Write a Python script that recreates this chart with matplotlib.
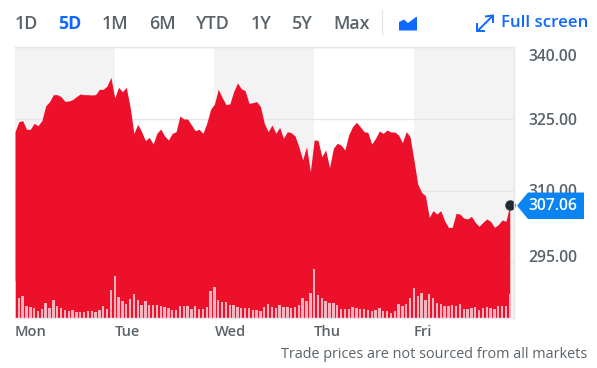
import matplotlib
matplotlib.use("Agg")
import matplotlib.pyplot as plt
from matplotlib.patches import Polygon
from matplotlib.lines import Line2D
from matplotlib.transforms import ScaledTranslation
import numpy as np

plt.rcParams['font.family'] = ['Open Sans', 'DejaVu Sans']

prices = [322.36,324.44,324.65,322.85,322.85,324.10,323.61,324.65,327.71,328.61,
330.07,330.07,329.65,328.68,328.75,329.03,329.65,330.21,330.07,330.07,330.0,330.07,331.18,331.18,331.88,333.68,
329.38,331.6,330.69,331.6,327.57,322.01,323.89,322.36,320.49,321.18,319.79,322.01,322.92,321.46,320.63,322.01,322.36,325.63,325.0,325.0,323.75,322.57,322.85,322.01,324.1,327.01,
328.13,331.18,329.51,327.99,328.13,330.69,332.5,331.32,330.9,328.26,328.4,328.61,327.57,324.1,322.36,323.75,322.01,323.26,320.97,322.36,322.15,321.46,319.24,
316.46,319.24,314.03,320.63,320.56,317.15,318.54,314.86,318.89,319.93,319.58,318.54,321.67,323.4,324.31,323.4,322.36,322.22,319.79,320.97,322.5,322.01,322.71,322.29,322.29,321.67,320.07,322.36,321.32,316.46,311.46,
309.72,309.03,304.51,305.9,305.2,305.9,303.82,302.43,302.43,305.35,305.2,304.37,304.17,304.72,303.47,302.64,303.47,304.17,303.68,302.43,302.99,303.96,303.68,307.06]
volumes = [112,59,65,35,32,30,21,27,44,29,53,35,30,25,22,25,18,19,17,20,20,17,23,36,27,84,125,63,51,42,
56,71,55,39,50,38,40,39,36,33,30,24,24,36,36,35,28,35,27,28,33,82,92,53,48,47,38,38,32,30,
30,31,24,25,21,33,43,33,31,38,33,32,29,32,39,
59,51,75,146,68,59,51,45,44,38,27,27,26,33,30,27,26,25,21,24,29,21,21,15,21,41,36,41,59,89,
67,76,53,71,60,46,41,35,37,38,36,41,27,26,29,33,25,30,32,29,27,36,36,37,72]
day_labels = ['Mon', 'Tue', 'Wed', 'Thu', 'Fri']
price_ticks = [340, 325, 310, 295]
ranges = ['1D', '5D', '1M', '6M', 'YTD', '1Y', '5Y', 'Max']
range_x = [26, 70, 115, 162, 212.5, 261, 302.5, 351.5]
last_price = '307.06'

W, H = 597, 368
GRAY, BLUE, RED = '#5b636a', '#0f69ff', '#ec102b'
fig = plt.figure(figsize=(W/100, H/100), dpi=100, facecolor='white')

def fx(x): return x / W
def fy(y): return 1 - y / H
def ptext(x, y, s, **kw):
    kw.setdefault('va', 'center'); kw.setdefault('ha', 'left')
    return fig.text(fx(x), fy(y), s, **kw)

L, R, T, B = 15, 514, 47, 318
ax = fig.add_axes([fx(L), fy(B), (R-L)/W, (B-T)/H])
x = np.arange(len(prices))
XMAX = 130.1
ax.set_xlim(0, XMAX)
ax.set_ylim(340 - (B-T)/4.8, 340)
day_idx = [0, 26, 52, 78, 104]
edges = day_idx + [XMAX]
for i in range(5):
    ax.axvspan(edges[i], edges[i+1], color='#f3f3f3' if i % 2 == 0 else 'white', lw=0, zorder=0)
ax.set_yticks(price_ticks)
ax.grid(axis='y', color='#e6e6e6', lw=1, zorder=1)
ax.set_axisbelow(True)
ax.fill_between(x, prices, ax.get_ylim()[0], color=RED, lw=0, zorder=2)

ax2 = ax.twinx()
ax2.set_ylim(0, (B-T)*3)
ax2.bar(x, volumes, width=0.62, color='#fbb4bf', lw=0, zorder=3)
ax2.set_yticks([])
ax2.patch.set_visible(False)

ax.yaxis.tick_right()
ax.tick_params(axis='y', length=0, pad=14.5*0.72, labelsize=11.3, labelcolor=GRAY)
ax.set_yticklabels([f'{p:.2f}' for p in price_ticks], fontweight='semibold')
for lab, dy in zip(ax.get_yticklabels(), [-8, 0, 1, 6.5]):
    lab.set_transform(lab.get_transform() + ScaledTranslation(0, dy/100, fig.dpi_scale_trans))
ax.set_xticks(day_idx)
ax.set_xticklabels(day_labels, ha='left', fontweight='semibold')
ax.tick_params(axis='x', length=0, pad=5, labelsize=10.5, labelcolor=GRAY)

for a in (ax, ax2):
    for s in a.spines.values():
        s.set_visible(False)
for a, b in [((L, T), (R, T)), ((L, B), (R, B)), ((R, T), (R, B))]:
    fig.add_artist(Line2D([fx(a[0]), fx(b[0])], [fy(a[1]), fy(b[1])], color='#e3e6ec', lw=1))

# Range selector
for s, cx in zip(ranges, range_x):
    active = s == '5D'
    ptext(cx, 24, s, ha='center', fontsize=12.9, color=BLUE if active else GRAY,
          fontweight='bold' if active else 'semibold')
fig.add_artist(Line2D([fx(382)]*2, [fy(10), fy(34)], color='#e3e6ec', lw=1))
icon = [(399,30.5),(399,22),(404,19.5),(408,23),(416,17),(417,17),(417,30.5)]
fig.add_artist(Polygon([(fx(a), fy(b)) for a, b in icon], closed=True, fc=BLUE, ec='none',
                       transform=fig.transFigure))
# Full-screen arrows
for hd in [((485, 16.5), (493, 15.5), (493, 23)), ((477, 23), (477, 31), (485, 31))]:
    fig.add_artist(Polygon([(fx(a), fy(b)) for a, b in hd], closed=False, fill=False, ec=BLUE, lw=1.4,
                           transform=fig.transFigure))
fig.add_artist(Line2D([fx(479), fx(485)], [fy(29.5), fy(23.5)], color=BLUE, lw=1.4))
fig.add_artist(Line2D([fx(486), fx(491.5)], [fy(22.5), fy(17)], color=BLUE, lw=1.4))
ptext(501, 23, 'Full screen', fontsize=12.15, color=BLUE, fontweight='semibold')

# Last-price tag
tag = [(517,205.7),(528,192.5),(584,192.5),(584,219),(528,219)]
fig.add_artist(Polygon([(fx(a), fy(b)) for a, b in tag], closed=True, fc='#0a84f0', ec='none',
                       transform=fig.transFigure, zorder=5))
ptext(528.7, 206, last_price, fontsize=11.3, color='white', fontweight='semibold', zorder=6)
ax2.plot([x[-1]], [prices[-1]], 'o', ms=6.5, color='#232a31', zorder=10, clip_on=False,
         transform=ax.transData)

ptext(587.5, 354, 'Trade prices are not sourced from all markets', ha='right', fontsize=10.37, color=GRAY)

fig.savefig('out.png', dpi=100)
